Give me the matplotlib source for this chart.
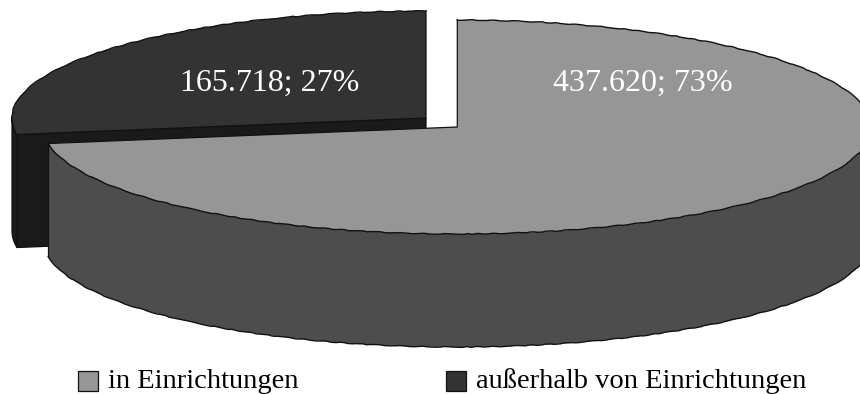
import numpy as np
import matplotlib
matplotlib.use("Agg")
import matplotlib.pyplot as plt

plt.rcParams['font.family'] = ['Liberation Serif', 'DejaVu Serif']

# Data
categories = ["in Einrichtungen", "außerhalb von Einrichtungen"]
counts = [437620, 165718]
top_colors = ["#969696", "#333333"]
side_colors = ["#4d4d4d", "#1a1a1a"]

# Tilted-disc geometry, in pixels of the 860x394 canvas
W, H = 860, 394
CX, CY = 457.3, 127.0      # centre of the large slice's top face
RX, RY = 414.0, 107.0      # semi-axes of the top face
DEPTH = 113.0
PULL_X, PULL_Y = -31.3, 9.0  # displacement of the small slice
EDGE = "#111111"
ROUGH = (0.35, 40, 8)      # slightly uneven outline on the curved rims


def px_x(x):
    return (x - CX) / RX


def px_y(y):
    return (CY - y) / RY


def arc(start, stop, n=240):
    t = np.radians(np.linspace(start, stop, n))
    return np.cos(t), np.sin(t)


def rough_line(x, y, zorder):
    line, = ax.plot(x, y, color=EDGE, lw=1.0, zorder=zorder)
    line.set_sketch_params(*ROUGH)


fig = plt.figure(figsize=(W / 100, H / 100), dpi=100, facecolor="white")
ax = fig.add_axes([0, 0, 1, 1])

# Clockwise from twelve o'clock: the large slice runs round the right side
wedges, _ = ax.pie(counts, colors=top_colors, startangle=90, counterclock=False,
                   radius=1.0, center=(0, 0),
                   wedgeprops=dict(edgecolor="none", linewidth=0))

# pie() forces an equal aspect; the disc is squashed through the axis limits
ax.set_aspect("auto")
ax.set_xlim(px_x(0), px_x(W))
ax.set_ylim(px_y(H), px_y(0))
ax.axis("off")

depth = DEPTH / RY
share = np.array(counts, dtype=float) / sum(counts)
split = 90 + 360 * share[1]       # angle where the slices meet on the left
ox, oy = PULL_X / RX, PULL_Y / RY
cs, ss = np.cos(np.radians(split)), np.sin(np.radians(split))

# Small slice: pulled out, with its cut face and a short piece of rim
wedges[1].set_center((ox, oy))
wedges[1].set_zorder(3)
ax.fill([ox, cs + ox, cs + ox, ox], [oy, ss + oy, ss + oy - depth, oy - depth],
        facecolor=side_colors[1], edgecolor=EDGE, linewidth=0.9, zorder=2)
rx, ry = arc(180, split, 24)
ax.fill(np.r_[rx + ox, rx[::-1] + ox], np.r_[ry + oy, ry[::-1] + oy - depth],
        facecolor=side_colors[1], edgecolor=EDGE, linewidth=0.9, zorder=2)
rx, ry = arc(90, split)
rough_line(rx + ox, ry + oy, 3.5)
ax.plot([cs + ox, ox, ox], [ss + oy, oy, oy + 1], color=EDGE, lw=0.9, zorder=3.5)

# Large slice: visible rim of the lower half, then its top face
rx, ry = arc(split, 360)
ax.fill(np.r_[rx, rx[::-1]], np.r_[ry, ry[::-1] - depth],
        facecolor=side_colors[0], edgecolor="none", zorder=4)
rough_line(rx, ry - depth, 4.5)
ax.plot([cs, cs], [ss, ss - depth], color=EDGE, lw=0.9, zorder=4.5)
wedges[0].set_zorder(5)
rx, ry = arc(split, 450, 480)
rough_line(rx, ry, 5.5)
ax.plot([cs, 0, 0], [ss, 0, 1], color=EDGE, lw=0.9, zorder=5.5)

# Value labels on the top faces
for value, pct, (lx, ly) in zip(counts, share, [(642.5, 90.5), (269.5, 90.5)]):
    label = f"{value:,}".replace(",", ".") + f"; {round(pct * 100)}%"
    ax.text(px_x(lx), px_y(ly), label, color="white", fontsize=23,
            ha="center", va="baseline", zorder=6)

leg = ax.legend(wedges, categories, ncols=2, loc="lower left",
                bbox_to_anchor=(78 / W, -0.5 / H), frameon=False, fontsize=20.5,
                handlelength=0.7, handleheight=0.7, handletextpad=0.35,
                columnspacing=5.2, borderpad=0, borderaxespad=0)
for h in leg.get_patches():
    h.set_edgecolor("#111111")
    h.set_linewidth(0.9)
    h.set_y(h.get_y() - 1.5)

fig.savefig("out.png", dpi=100, facecolor="white")
